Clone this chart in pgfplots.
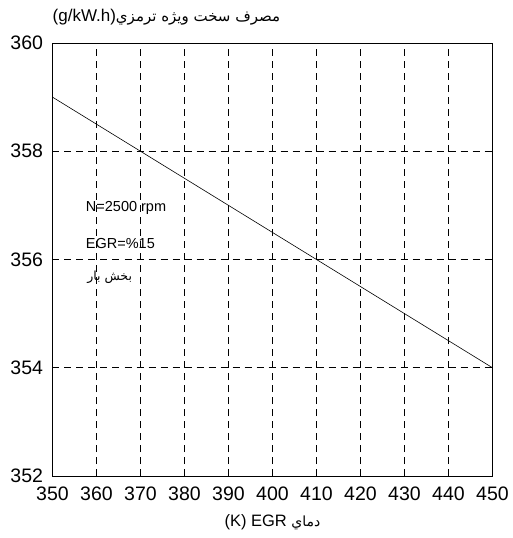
\documentclass[border=0pt]{standalone}
\usepackage{fontspec}
\setmainfont{Liberation Sans}
\newfontfamily\arabicfont[Script=Arabic]{DejaVu Sans}
\TeXXeTstate=1
\usepackage{pgfplots}
\pgfplotsset{compat=1.18}

\begin{document}
\begin{tikzpicture}
\begin{axis}[
  scale only axis,
  width=440pt, height=433pt,
  xmin=350, xmax=450,
  ymin=352, ymax=360,
  xtick={350,360,...,450},
  ytick={352,354,356,358,360},
  major tick length=0pt,
  grid=major,
  major grid style={black, line width=0.6pt, dash pattern=on 7pt off 5pt},
  axis line style={black, line width=0.9pt},
  tick label style={font=\fontsize{19.5}{19.5}\selectfont},
  /pgf/number format/assume math mode=true,
  xticklabel style={yshift=-7pt},
  yticklabel style={xshift=-6pt},
  clip=false,
]
% brake specific fuel consumption versus EGR temperature
\addplot[black, line width=0.6pt] coordinates {(350,359) (450,354)};

\node[anchor=west, font=\fontsize{14.5}{14.5}\selectfont] at (axis cs:356.8,356.95) {N=2500 rpm};
\node[anchor=west, font=\fontsize{14.5}{14.5}\selectfont] at (axis cs:356.8,356.3) {EGR=\%15};
\node[anchor=west, font=\arabicfont\fontsize{12.5}{12.5}\selectfont] at (axis cs:357.1,355.68) {\beginR بخش بار\endR};

\node[anchor=west, inner sep=0pt] at (rel axis cs:0,1) [yshift=26pt]
  {\beginL\fontsize{17}{17}\selectfont(g/kW.h)\endL{\arabicfont\fontsize{15}{15}\selectfont\beginR مصرف سخت ويژه ترمزي\endR}};
\node at (rel axis cs:0.5,0) [yshift=-46pt]
  {\beginL\fontsize{16.5}{16.5}\selectfont(K) EGR \endL{\arabicfont\fontsize{14}{14}\selectfont\beginR دماي\endR}};
\end{axis}
\path[use as bounding box] (-52.5pt,-62pt) rectangle (458.5pt,476pt);
\end{tikzpicture}
\end{document}
